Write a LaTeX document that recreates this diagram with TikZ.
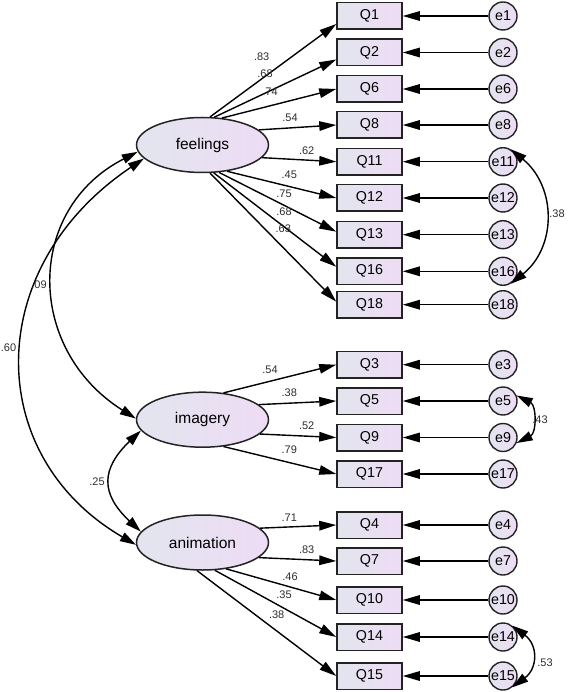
\documentclass[tikz,border=0pt]{standalone}
\usepackage{fontspec}
\setmainfont{Liberation Sans}
\usetikzlibrary{arrows.meta,shapes.geometric}
\definecolor{lft}{RGB}{226,229,238}
\definecolor{rgt}{RGB}{238,220,245}
\definecolor{edgec}{RGB}{35,35,35}
\definecolor{lblc}{RGB}{45,45,45}
\begin{document}
\begin{tikzpicture}[x=1pt,y=-1pt,
  obs/.style={draw=edgec, line width=1.5pt, left color=lft, right color=rgt,
    minimum width=65pt, minimum height=26.5pt, inner sep=0pt,
    font=\fontsize{14.3}{14.3}\selectfont},
  err/.style={circle, draw=edgec, line width=1.4pt, left color=lft, right color=rgt,
    minimum size=28pt, inner sep=0pt, font=\fontsize{14.3}{14.3}\selectfont},
  lat/.style={ellipse, draw=edgec, line width=1.5pt, left color=lft, right color=rgt,
    minimum width=132pt, minimum height=55pt, inner sep=0pt,
    font=\fontsize{15.5}{15.5}\selectfont},
  arr/.style={-{Triangle[length=17pt,width=9.5pt]}, line width=1.4pt},
  cov/.style={{Triangle[length=16pt,width=9.5pt]}-{Triangle[length=16pt,width=9.5pt]}, line width=1.4pt},
  val/.style={font=\fontsize{11}{11}\selectfont, text=lblc, inner sep=0pt}
]
\useasboundingbox (0,0) rectangle (567,692);

% latent variables
\node[lat] (feel) at (202.5,145) {feelings};
\node[lat] (imag) at (202.5,419.7) {imagery};
\node[lat] (anim) at (202.5,542.5) {animation};

% observed variables and errors
\foreach \n/\y in {1/16, 2/52.5, 6/89, 8/125, 11/161.7, 12/198, 13/234.7, 16/271.3, 18/304.7,
                   3/364.7, 5/401, 9/437.5, 17/474, 4/525, 7/561, 10/600, 14/637, 15/676}{
  \node[obs] (Q\n) at (369.5,\y) {Q\n};
  \node[err] (e\n) at (503,\y) {e\n};
  \draw[arr] (e\n) -- (Q\n);
}

% loadings: feelings
\draw[arr] (feel.75.5) -- ([yshift=-8pt]Q1.west);
\draw[arr] (feel.67.4) -- ([yshift=-7pt]Q2.west);
\draw[arr] (feel.54.6) -- (Q6.west);
\draw[arr] (feel.15.8) -- (Q8.west);
\draw[arr] (feel.-12.7) -- (Q11.west);
\draw[arr] (feel.-47.8) -- (Q12.west);
\draw[arr] (feel.-59.4) -- ([yshift=3pt]Q13.west);
\draw[arr] (feel.-68.7) -- ([yshift=4.5pt]Q16.west);
\draw[arr] (feel.-75) -- ([yshift=3pt]Q18.west);
% loadings: imagery
\draw[arr] (imag.52.8) -- (Q3.west);
\draw[arr] (imag.15) -- (Q5.west);
\draw[arr] (imag.-14.3) -- (Q9.west);
\draw[arr] (imag.-52) -- (Q17.west);
% loadings: animation
\draw[arr] (anim.14) -- (Q4.west);
\draw[arr] (anim.-15) -- (Q7.west);
\draw[arr] (anim.-48.6) -- (Q10.west);
\draw[arr] (anim.-66) -- (Q14.west);
\draw[arr] (anim.-101.6) -- (Q15.west);

% factor covariances
\draw[cov] (feel.186) .. controls (25.3,209) and (25.3,349) .. (imag.179);
\draw[cov] (feel.193) .. controls (-17.5,267) and (-17.5,455.5) .. (anim.182);
\draw[cov] (imag.190.6) .. controls (100.6,469) and (100.6,494) .. (anim.170.5);

% error covariances
\draw[cov] (e11.58) .. controls (556.7,187) and (556.7,247) .. (e16.-58);
\draw[cov] (e5.22) .. controls +(20,10) and +(20,-10) .. (e9.-22);
\draw[cov] (e14.50) .. controls (538,645) and (538,668) .. (e15.-50);

% loading values
\node[val] (v1) at (261.7,56.7) {.83};
\node[val] (v2) at (265,74) {.68};
\node[val] (v6) at (270,91.7) {.74};
\node[val] (v8) at (290,117.3) {.54};
\node[val] (v11) at (306.7,150.7) {.62};
\node[val] (v12) at (289.3,174.7) {.45};
\node[val] (v13) at (284,193.3) {.75};
\node[val] (v16) at (284,211.7) {.68};
\node[val] (v18) at (283.3,228.3) {.63};
\node[val] (v3) at (270,369.3) {.54};
\node[val] (v5) at (289.3,392.7) {.38};
\node[val] (v9) at (306.7,426) {.52};
\node[val] (v17) at (289.3,450) {.79};
\node[val] (v4) at (289.3,517.7) {.71};
\node[val] (v7) at (306.7,550) {.83};
\node[val] (v10) at (290,576.7) {.46};
\node[val] (v14) at (284,595) {.35};
\node[val] (v15) at (276.7,615) {.38};

% covariance values
\node[val] (cfi) at (39,285) {.09};
\node[val] (cfa) at (8.5,348) {.60};
\node[val] (cia) at (97,482) {.25};
\node[val] (c1116) at (557,214) {.38};
\node[val] (c59) at (540,420) {.43};
\node[val] (c1415) at (545,663) {.53};
\end{tikzpicture}
\end{document}
